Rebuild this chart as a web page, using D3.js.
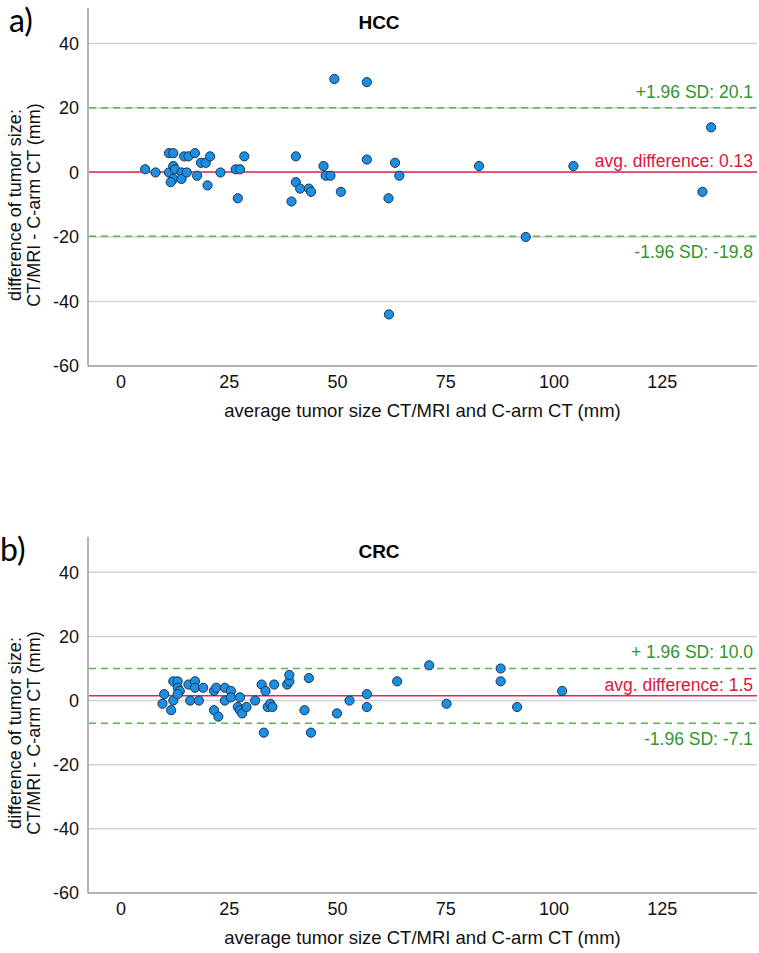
<!DOCTYPE html>
<html>
<head>
<meta charset="utf-8">
<script src="https://cdn.jsdelivr.net/npm/d3@7"></script>
<style>
  html, body { margin: 0; padding: 0; background: #fff; }
  svg { display: block; }
  text { font-family: "Liberation Sans", Arial, sans-serif; }
</style>
</head>
<body>
<div id="chart"></div>
<script>
// --- data ---
const hccMean = [5.7, 8.1, 11.2, 12.2, 11.2, 12.2, 12.6, 12.2, 11.6, 14.1, 14.1, 15.3, 14.7, 15.7, 17.2, 17.7, 18.6, 19.7, 20.7, 20.1,
  23.1, 26.6, 27.6, 28.6, 27.1, 39.5, 40.5, 40.5, 41.5, 43.5, 44.0, 46.9, 47.4, 48.5, 50.9, 49.4, 56.9, 56.9, 63.4, 64.4,
  61.9, 62.0, 82.8, 93.6, 104.6, 136.4, 134.4];
const hccDiff = [1, 0, 6, 6, 0, 2, 1, -2, -3, 0, -2, 0, 5, 5, 6, -1, 3, 3, 5, -4,
  0, 1, 1, 5, -8, -9, 5, -3, -5, -5, -6, 2, -1, -1, -6, 29, 28, 4, 3, -1,
  -8, -44, 2, -20, 2, 14, -6];

const crcMean = [9.7, 10.1, 11.7, 12.2, 12.2, 13.2, 13.2, 13.7, 13.2, 15.7, 16.1, 17.2, 17.2, 18.1, 19.1, 21.6, 22.1, 21.6, 22.6, 24.1,
  24.1, 25.5, 25.5, 27.6, 27.1, 27.6, 28.1, 29.1, 31.1, 32.6, 33.5, 33.1, 34.0, 34.6, 35.1, 35.5, 38.5, 39.0, 39.0, 42.5,
  43.5, 44.0, 50.0, 52.9, 56.9, 56.9, 63.9, 71.3, 75.3, 87.8, 87.8, 91.6, 102.0];
const crcDiff = [-1, 2, -3, 0, 6, 6, 4, 3, 2, 5, 0, 6, 4, 0, 4, 3, 4, -3, -5, 4,
  0, 3, 1, 1, -2, -3, -4, -2, 0, 5, 3, -10, -2, -1, -2, 5, 5, 6, 8, -3,
  7, -10, -4, 0, 2, -2, 6, 11, -1, 10, 6, -2, 3];

// limits of agreement: [upper, mean, lower]
const hccLimits = [20.1, 0.13, -19.8];
const crcLimits = [10.0, 1.5, -7.1];
const hccLabels = ["+1.96 SD: 20.1", "avg. difference: 0.13", "-1.96 SD: -19.8"];
const crcLabels = ["+ 1.96 SD: 10.0", "avg. difference: 1.5", "-1.96 SD: -7.1"];

const xTicks = [0, 25, 50, 75, 100, 125];
const yTicks = [40, 20, 0, -20, -40, -60];

const W = 759, H = 953;
const svg = d3.select("#chart").append("svg").attr("width", W).attr("height", H);

const left = 88, right = 757;
const x = d3.scaleLinear().domain([-7.5, 147]).range([left, right]);

const greenLine = "#55b84e", greenText = "#2f952f";
const red = "#e0285a", redText = "#e0143c";

function panel(top, bottom, letter, letterX, title, means, diffs, limits, labels) {
  const y = d3.scaleLinear().domain([-60, 51]).range([bottom, top]);
  const g = svg.append("g");

  // panel letter
  g.append("text").attr("x", letterX).attr("y", top + 24)
    .style("font-family", "Lato, 'Open Sans', sans-serif").style("font-size", "32px")
    .text(letter);

  // gridlines
  g.append("g").selectAll("line")
    .data(yTicks.filter((d) => d > -60))
    .join("line")
    .attr("x1", left).attr("x2", right)
    .attr("y1", (d) => y(d)).attr("y2", (d) => y(d))
    .attr("stroke", "#d2d2d2").attr("stroke-width", 1.5);

  // axes (labels only, no tick marks); plain hyphen for negatives like SPSS
  const yAxis = g.append("g").attr("transform", `translate(${left - 6},0)`)
    .call(d3.axisLeft(y).tickValues(yTicks).tickSize(0).tickFormat((d) => String(d)));
  yAxis.select(".domain").remove();
  yAxis.selectAll("text").style("font-size", "18px").attr("fill", "#111")
    .attr("font-family", null);

  const xAxis = g.append("g").attr("transform", `translate(0,${bottom + 6})`)
    .call(d3.axisBottom(x).tickValues(xTicks).tickSize(0).tickFormat((d) => String(d)));
  xAxis.select(".domain").remove();
  xAxis.selectAll("text").style("font-size", "18px").attr("fill", "#111").attr("font-family", null);

  g.append("line").attr("x1", left).attr("x2", left).attr("y1", top).attr("y2", bottom)
    .attr("stroke", "#9a9a9a").attr("stroke-width", 1.5);
  g.append("line").attr("x1", left).attr("x2", right).attr("y1", bottom).attr("y2", bottom)
    .attr("stroke", "#9a9a9a").attr("stroke-width", 1.5);

  // title
  g.append("text").attr("x", 379).attr("y", top + 21).attr("text-anchor", "middle")
    .style("font-size", "19px").style("font-weight", "bold").text(title);

  // axis titles
  g.append("text").attr("x", (left + right) / 2).attr("y", bottom + 51)
    .attr("text-anchor", "middle").style("font-size", "18.5px").attr("fill", "#111")
    .text("average tumor size CT/MRI and C-arm CT (mm)");
  const yt = g.append("text")
    .attr("transform", `translate(21,${(top + bottom) / 2 + 18}) rotate(-90)`)
    .attr("text-anchor", "middle").style("font-size", "18px").attr("fill", "#111");
  yt.append("tspan").attr("x", 0).attr("dy", 0).text("difference of tumor size:");
  yt.append("tspan").attr("x", 0).attr("dy", 19).text("CT/MRI - C-arm CT (mm)");

  // limit lines
  g.selectAll(".limit")
    .data(limits)
    .join("line")
    .attr("x1", left + 1).attr("x2", right)
    .attr("y1", (d) => y(d)).attr("y2", (d) => y(d))
    .attr("stroke", (d, i) => (i === 1 ? red : greenLine))
    .attr("stroke-width", 1.5)
    .attr("stroke-dasharray", (d, i) => (i === 1 ? null : "7,5"));

  // points
  g.append("g").selectAll("circle")
    .data(means.map((m, i) => [m, diffs[i]]))
    .join("circle")
    .attr("cx", (d) => x(d[0])).attr("cy", (d) => y(d[1]))
    .attr("r", 4.6)
    .attr("fill", "#1b8fe3").attr("stroke", "#1d3550").attr("stroke-width", 1);

  // limit labels
  const offs = [-10, -5, 22];
  g.selectAll(".lab")
    .data(labels)
    .join("text")
    .attr("x", 753).attr("y", (d, i) => y(limits[i]) + offs[i])
    .attr("text-anchor", "end").style("font-size", "17.5px")
    .attr("fill", (d, i) => (i === 1 ? redText : greenText))
    .text((d) => d);
}

panel(8, 366, "a)", 9, "HCC", hccMean, hccDiff, hccLimits, hccLabels);
panel(537, 893, "b)", 0, "CRC", crcMean, crcDiff, crcLimits, crcLabels);
</script>
</body>
</html>
